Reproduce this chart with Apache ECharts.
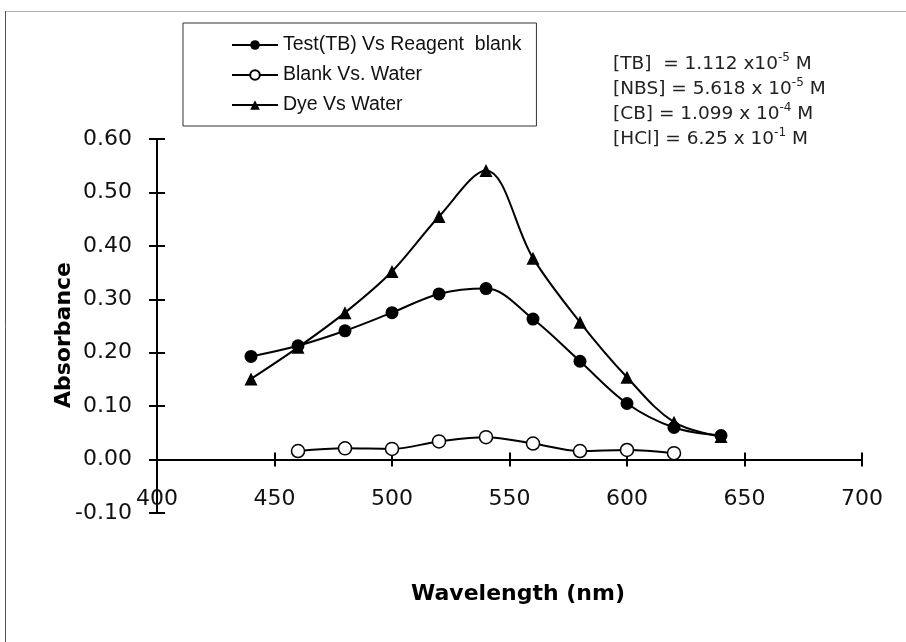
<!DOCTYPE html>
<html>
<head>
<meta charset="utf-8">
<script src="https://cdn.jsdelivr.net/npm/echarts@6/dist/echarts.min.js"></script>
<style>
  html, body { margin: 0; padding: 0; background: #fff; }
  #chart { width: 906px; height: 642px; }
</style>
</head>
<body>
<div id="chart"></div>
<script>
// wavelengths (nm)
var waveFull = [440, 460, 480, 500, 520, 540, 560, 580, 600, 620, 640];
var waveBlank = [460, 480, 500, 520, 540, 560, 580, 600, 620];

// absorbance values
var testTB = [0.193, 0.213, 0.241, 0.275, 0.310, 0.320, 0.263, 0.184, 0.105, 0.060, 0.045];
var blankWater = [0.016, 0.021, 0.020, 0.034, 0.042, 0.030, 0.016, 0.018, 0.012];
var dyeWater = [0.151, 0.210, 0.275, 0.352, 0.455, 0.541, 0.377, 0.257, 0.154, 0.070, 0.043];

var seriesNames = ['Test(TB) Vs Reagent  blank', 'Blank Vs. Water', 'Dye Vs Water'];

function pairs(xs, ys) {
    var out = [];
    for (var i = 0; i < xs.length; i++) {
        out.push([xs[i], ys[i]]);
    }
    return out;
}

var labelFont = 'DejaVu Sans';

var myChart = echarts.init(document.getElementById('chart'), null, { renderer: 'canvas' });

var baseX = {
    type: 'value',
    min: 400,
    max: 700,
    interval: 50,
    position: 'bottom',
    splitLine: { show: false }
};
var baseY = {
    type: 'value',
    min: -0.1,
    max: 0.6,
    interval: 0.1,
    position: 'left',
    splitLine: { show: false }
};

var option = {
    backgroundColor: '#fff',
    animation: false,
    grid: {
        left: 157,
        right: 44,
        top: 139,
        bottom: 129
    },
    legend: {
        orient: 'vertical',
        left: 183,
        top: 23,
        padding: [12, 15, 11, 48],
        itemGap: 10,
        itemWidth: 46,
        itemHeight: 12,
        borderColor: '#333',
        borderWidth: 1,
        textStyle: {
            fontFamily: 'Liberation Sans',
            fontSize: 19.5,
            color: '#111'
        },
        data: seriesNames
    },
    xAxis: [
        Object.assign({}, baseX, {
            axisLine: { onZero: true, lineStyle: { color: '#000', width: 2 } },
            axisTick: { show: true, inside: false, length: 7, lineStyle: { color: '#000', width: 2 } },
            axisLabel: {
                margin: -25,
                color: '#111',
                fontFamily: labelFont,
                fontSize: 22
            }
        }),
        // second copy only for the inner half of the crossing ticks
        Object.assign({}, baseX, {
            axisLine: { show: true, onZero: true, lineStyle: { color: '#000', width: 2 } },
            axisTick: { show: true, inside: true, length: 7, lineStyle: { color: '#000', width: 2 } },
            axisLabel: { show: false }
        })
    ],
    yAxis: [
        Object.assign({}, baseY, {
            axisLine: { show: true, lineStyle: { color: '#000', width: 2 } },
            axisTick: { show: true, inside: false, length: 8, lineStyle: { color: '#000', width: 2 } },
            axisLabel: {
                margin: 25,
                color: '#111',
                fontFamily: labelFont,
                fontSize: 22,
                formatter: function (v) {
                    if (Math.abs(v) < 1e-9) v = 0;
                    return v.toFixed(2);
                }
            }
        }),
        Object.assign({}, baseY, {
            axisLine: { show: true, lineStyle: { color: '#000', width: 2 } },
            axisTick: { show: true, inside: true, length: 8, lineStyle: { color: '#000', width: 2 } },
            axisLabel: { show: false }
        })
    ],
    series: [
        {
            name: seriesNames[0],
            type: 'line',
            xAxisIndex: 0,
            yAxisIndex: 0,
            smooth: 0.35,
            symbol: 'circle',
            symbolSize: 13,
            data: pairs(waveFull, testTB),
            lineStyle: { color: '#000', width: 2 },
            itemStyle: { color: '#000' }
        },
        {
            name: seriesNames[1],
            type: 'line',
            xAxisIndex: 0,
            yAxisIndex: 0,
            smooth: 0.35,
            symbol: 'circle',
            symbolSize: 13,
            data: pairs(waveBlank, blankWater),
            lineStyle: { color: '#000', width: 2 },
            itemStyle: { color: '#fff', borderColor: '#000', borderWidth: 1.5 }
        },
        {
            name: seriesNames[2],
            type: 'line',
            xAxisIndex: 0,
            yAxisIndex: 0,
            smooth: 0.35,
            symbol: 'triangle',
            symbolSize: 13,
            data: pairs(waveFull, dyeWater),
            lineStyle: { color: '#000', width: 2 },
            itemStyle: { color: '#000' }
        },
        {
            // empty series so the tick-only axes get drawn
            name: 'ticks',
            type: 'line',
            xAxisIndex: 1,
            yAxisIndex: 1,
            data: [],
            silent: true
        }
    ],
    graphic: [
        // outer frame
        {
            type: 'line',
            shape: { x1: 5, y1: 11.5, x2: 906, y2: 11.5 },
            style: { stroke: '#b0b0b0', lineWidth: 1 }
        },
        {
            type: 'line',
            shape: { x1: 5.5, y1: 11, x2: 5.5, y2: 642 },
            style: { stroke: '#555', lineWidth: 1 }
        },
        // axis titles
        {
            type: 'text',
            x: 64,
            y: 335,
            rotation: Math.PI / 2,
            style: {
                text: 'Absorbance',
                fill: '#000',
                font: 'bold 22px "DejaVu Sans"',
                align: 'center',
                verticalAlign: 'middle'
            }
        },
        {
            type: 'text',
            x: 518,
            y: 594,
            style: {
                text: 'Wavelength (nm)',
                fill: '#000',
                font: 'bold 22px "DejaVu Sans"',
                align: 'center',
                verticalAlign: 'middle'
            }
        },
        // concentrations
        {
            type: 'text',
            left: 613,
            top: 52,
            style: {
                text: '[TB]  = 1.112 x10{sup|-5} M\n' +
                      '[NBS] = 5.618 x 10{sup|-5} M\n' +
                      '[CB] = 1.099 x 10{sup|-4} M\n' +
                      '[HCl] = 6.25 x 10{sup|-1} M',
                fill: '#222',
                font: '18.5px "DejaVu Sans"',
                lineHeight: 25,
                rich: {
                    sup: {
                        fontSize: 12,
                        fontFamily: 'DejaVu Sans',
                        fill: '#222',
                        verticalAlign: 'top',
                        lineHeight: 19
                    }
                }
            }
        }
    ]
};

myChart.setOption(option);
</script>
</body>
</html>
